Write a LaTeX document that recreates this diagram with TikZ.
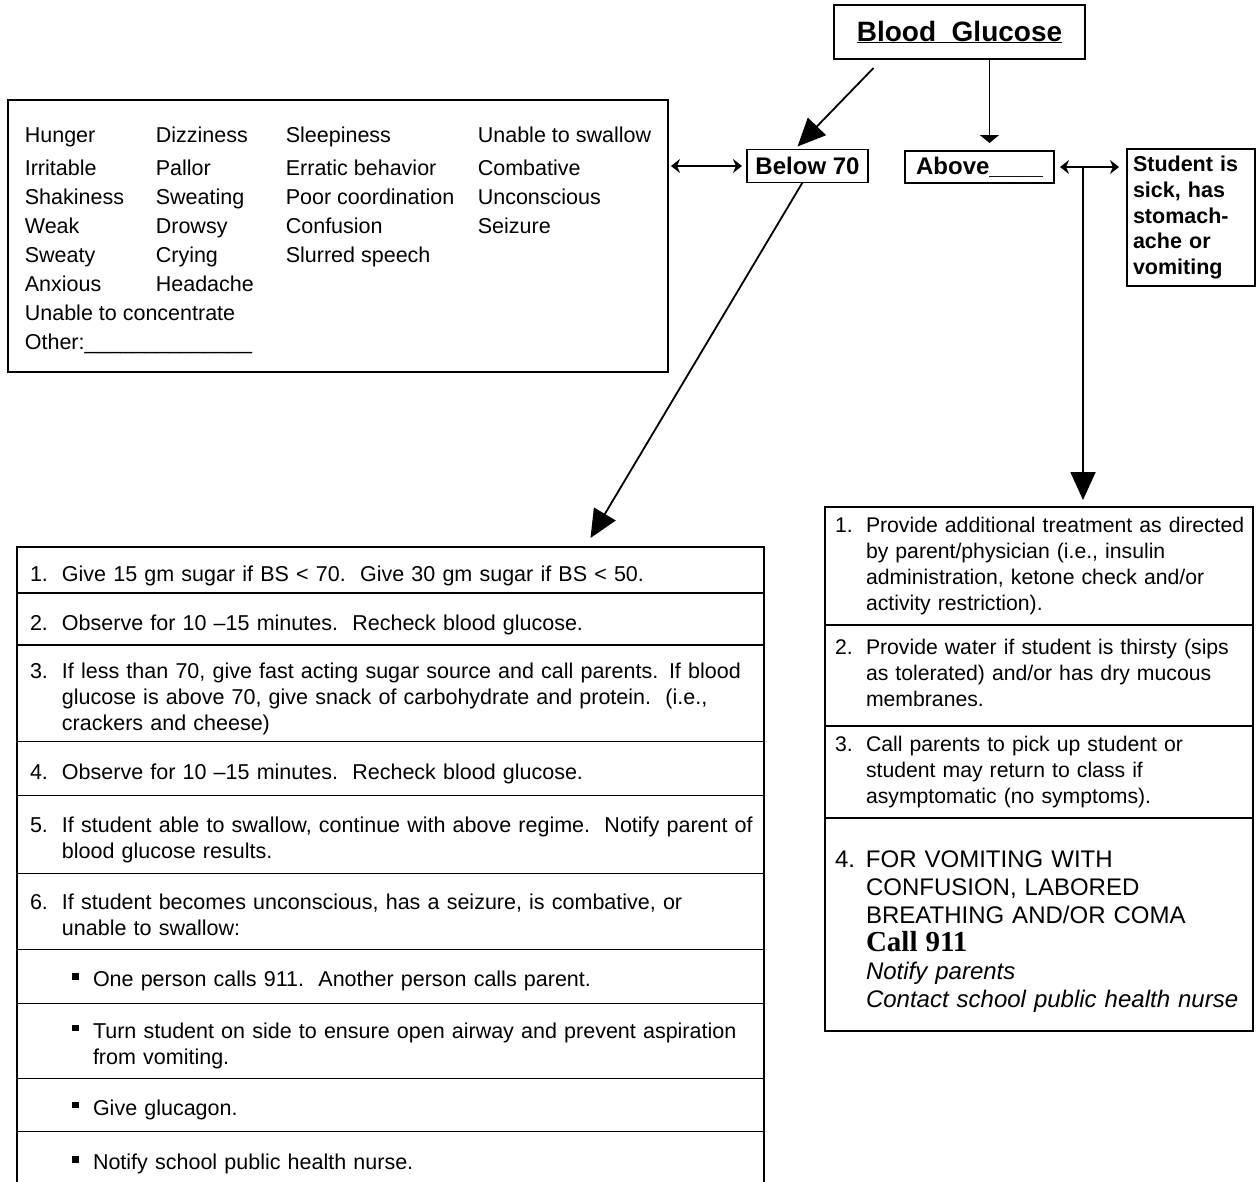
\documentclass[tikz,border=0pt]{standalone}
\usepackage{fontspec}
\setmainfont{Liberation Sans}
\newfontfamily\timesfont{Liberation Serif}
\usepackage{tikz}
\usetikzlibrary{positioning}
\usetikzlibrary{arrows.meta}

\newcommand{\listfont}{\fontsize{21.5}{26}\selectfont}
\newcommand{\rightfont}{\fontsize{21.2}{26}\selectfont}
\newcommand{\symfont}{\fontsize{21.5}{29}\selectfont}
\newcommand{\numitem}[3][32pt]{\makebox[#1][l]{#2}\begin{tabular}[t]{@{}l@{}}#3\end{tabular}}
\newcommand{\stepitem}[2]{\numitem{#1}{\rule{0pt}{30pt}#2}}
\newcommand{\bulitem}[1]{\hspace*{42pt}\makebox[21pt][l]{\raisebox{7pt}{\rule{6.5pt}{6.5pt}}}\begin{tabular}[t]{@{}l@{}}\rule{0pt}{28pt}#1\end{tabular}}

\tikzset{
  box/.style={draw, line width=1.8pt, outer sep=0pt},
  rowbox/.style={box, align=left, font=\listfont, inner xsep=13pt, text width=721pt},
  rightrow/.style={box, align=left, font=\rightfont, inner xsep=10pt, text width=408pt},
  tag/.style={box, font=\fontsize{24}{26}\selectfont\bfseries},
  bigarrow/.style={line width=1.8pt, -{Triangle[length=28pt,width=25pt]}},
  smallarrow/.style={line width=1.8pt, -{Triangle[length=8pt,width=19pt]}},
  dblarrow/.style={line width=1.8pt, {Stealth[length=9pt,width=14pt]}-{Stealth[length=9pt,width=14pt]}}
}

\begin{document}
\begin{tikzpicture}[x=1pt, y=-1pt]
  \useasboundingbox (0,0) rectangle (1257,1181);

  % top of the chart
  \node[box, minimum width=251pt, minimum height=54pt, font=\fontsize{28}{30}\selectfont\bfseries] (bg) at (959.5,32) {\underline{Blood\ \ Glucose}};
  \node[tag, minimum width=121pt, minimum height=33pt] (below) at (807.5,166) {Below 70};
  \node[tag, minimum width=149pt, minimum height=32pt] (above) at (979.5,167) {Above\_\_\_\_};
  \node[box, minimum width=128pt, minimum height=137pt, inner xsep=6pt, text width=116pt, align=left,
        font=\fontsize{21.5}{25.75}\selectfont\bfseries] (student) at (1191,217.5)
        {Student is\\ sick, has\\ stomach-\\ ache or\\ vomiting};

  % symptoms
  \node[box, minimum width=660pt, minimum height=272pt, font=\symfont] (symptoms) at (338,236) {%
    \begin{tabular}{@{}p{131pt}@{}p{130pt}@{}p{192pt}@{}l@{}}
      \rule{0pt}{29.5pt}Hunger & Dizziness & Sleepiness & Unable to swallow\\[4pt]
      Irritable & Pallor & Erratic behavior & Combative\\
      Shakiness & Sweating & Poor coordination & Unconscious\\
      Weak & Drowsy & Confusion & Seizure\\
      Sweaty & Crying & Slurred speech & \\
      Anxious & Headache & & \\
      \multicolumn{4}{@{}l@{}}{Unable to concentrate}\\
      \multicolumn{4}{@{}l@{}}{Other:\_\_\_\_\_\_\_\_\_\_\_\_\_\_}
    \end{tabular}};

  % below 70 steps
  \node[rowbox, minimum height=46pt, anchor=north west] (row1) at (17,547)
    {\stepitem{1.}{Give 15 gm sugar if BS < 70.\ \ Give 30 gm sugar if BS < 50.}};
  \node[rowbox, minimum height=52pt, below=0pt of row1] (row2)
    {\stepitem{2.}{Observe for 10 --15 minutes.\ \ Recheck blood glucose.}};
  \node[rowbox, minimum height=95pt, below=0pt of row2] (row3)
    {\stepitem{3.}{If less than 70, give fast acting sugar source and call parents. If blood\\
      glucose is above 70, give snack of carbohydrate and protein.\ \ (i.e.,\\
      crackers and cheese)}};
  \node[rowbox, minimum height=54pt, below=0pt of row3] (row4)
    {\stepitem{4.}{Observe for 10 --15 minutes.\ \ Recheck blood glucose.}};
  \node[rowbox, minimum height=78pt, below=0pt of row4] (row5)
    {\stepitem{5.}{If student able to swallow, continue with above regime.\ \ Notify parent of\\
      blood glucose results.}};
  \node[rowbox, minimum height=76pt, below=0pt of row5] (row6)
    {\stepitem{6.}{If student becomes unconscious, has a seizure, is combative, or\\
      unable to swallow:}};
  \node[rowbox, minimum height=54pt, below=0pt of row6] (bul1)
    {\bulitem{One person calls 911.\ \ Another person calls parent.}};
  \node[rowbox, minimum height=75pt, below=0pt of bul1] (bul2)
    {\bulitem{Turn student on side to ensure open airway and prevent aspiration\\ from vomiting.}};
  \node[rowbox, minimum height=53pt, below=0pt of bul2] (bul3)
    {\bulitem{Give glucagon.}};
  \node[rowbox, minimum height=56pt, below=0pt of bul3] (bul4)
    {\bulitem{Notify school public health nurse.}};

  % above steps
  \node[rightrow, minimum height=118pt, anchor=north west] (rb1) at (825,507)
    {\numitem[31pt]{1.}{Provide additional treatment as directed\\ by parent/physician (i.e., insulin\\
      administration, ketone check and/or\\ activity restriction).}};
  \node[rightrow, minimum height=101pt, below=0pt of rb1] (rb2)
    {\numitem[31pt]{2.}{Provide water if student is thirsty (sips\\ as tolerated) and/or has dry mucous\\ membranes.}};
  \node[rightrow, minimum height=92pt, below=0pt of rb2] (rb3)
    {\numitem[31pt]{3.}{Call parents to pick up student or\\ student may return to class if\\ asymptomatic (no symptoms).}};
  \node[rightrow, minimum height=213pt, below=0pt of rb3, font=\fontsize{24}{28}\selectfont] (rb4)
    {\numitem[31pt]{4.}{\rule{0pt}{34pt}FOR VOMITING WITH\\ CONFUSION, LABORED\\ BREATHING AND/OR COMA\\
      {\timesfont\bfseries\fontsize{29}{30}\selectfont Call 911}\\
      \itshape Notify parents\\ \itshape Contact school public health nurse}};

  % connectors
  \coordinate (split) at ([xshift=29pt]above.east);
  \draw[bigarrow] ([shift={(-86pt,-9pt)}]bg.south) -- ([shift={(-10pt,3pt)}]below.north);
  \draw[smallarrow] ([xshift=30pt]bg.south) -- ([shift={(10pt,8pt)}]above.north);
  \draw[dblarrow] ([xshift=3pt]symptoms.east |- below.west) -- ([xshift=-5pt]below.west);
  \draw[dblarrow] ([xshift=6pt]above.east) -- ([xshift=-8pt]student.west |- above.east);
  \draw[bigarrow] (split) -- ([yshift=7pt]split |- rb1.north);
  \draw[bigarrow] ([xshift=-5pt]below.south) -- ([shift={(200pt,9pt)}]row1.north);
\end{tikzpicture}
\end{document}
